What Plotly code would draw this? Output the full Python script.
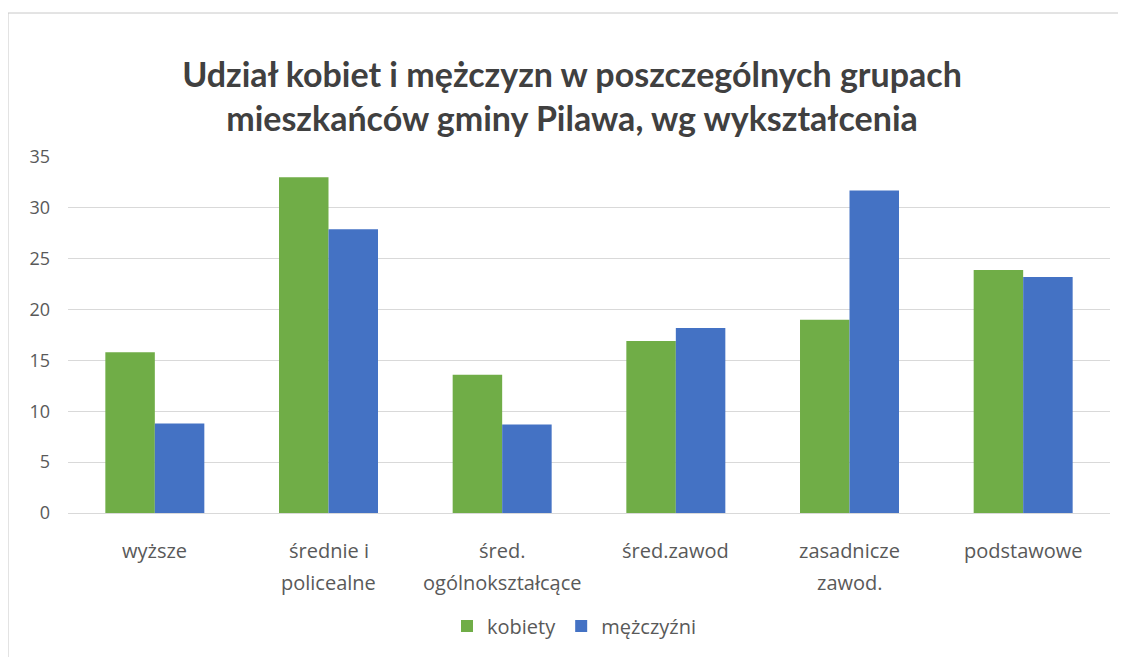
import plotly.graph_objects as go

categories = ["wyższe", "średnie i<br>policealne", "śred.<br>ogólnokształcące",
              "śred.zawod", "zasadnicze<br>zawod.", "podstawowe"]
kobiety = [15.8, 33.0, 13.6, 16.9, 19.0, 23.9]
mezczyzni = [8.8, 27.9, 8.7, 18.2, 31.7, 23.2]
y_ticks = [0, 5, 10, 15, 20, 25, 30, 35]

# page body has an 8px margin, so figure pixels = screen pixels - 8
OFF = 8
W, H = 1118, 649
L, R, T, B = 60, 16, 149, 144
pw, ph = W - L - R, H - T - B

def px_x(sx):
    return (sx - OFF - L) / pw

def px_y(sy):
    return (H - B + OFF - sy) / ph

TICK_FONT = dict(family="'Open Sans', Lato, sans-serif", size=18, color="#595959")
LABEL_FONT = dict(family="'Open Sans', Lato, sans-serif", size=20, color="#595959")

fig = go.Figure()
fig.add_trace(go.Bar(x=list(range(len(categories))), y=kobiety, name="kobiety",
                     marker_color="#70AD47", marker_line_width=0))
fig.add_trace(go.Bar(x=list(range(len(categories))), y=mezczyzni, name="mężczyźni",
                     marker_color="#4472C4", marker_line_width=0))

annotations = []
line_y = [550, 582]
for i, cat in enumerate(categories):
    for j, part in enumerate(cat.split("<br>")):
        annotations.append(dict(x=i, xref="x", y=px_y(line_y[j]), yref="paper",
                                text=part, showarrow=False, xanchor="center",
                                yanchor="middle", font=LABEL_FONT))

fig.update_layout(
    width=W, height=H,
    margin=dict(l=L, r=R, t=T, b=B, autoexpand=False),
    paper_bgcolor="white", plot_bgcolor="white",
    barmode="group", bargap=0.43, bargroupgap=0,
    font=TICK_FONT,
    title=dict(
        text="Udział kobiet i mężczyzn w poszczególnych grupach<br>mieszkańców gminy Pilawa, wg wykształcenia",
        x=px_x(572), xanchor="center", xref="paper",
        y=1 - (87 - OFF) / H, yanchor="middle", yref="container",
        font=dict(family="Lato, 'Open Sans', sans-serif", size=34, color="#404040", weight="bold"),
    ),
    legend=dict(orientation="h", x=px_x(574), xanchor="center", y=px_y(626), yanchor="middle",
                font=LABEL_FONT, traceorder="normal", itemwidth=30),
    xaxis=dict(range=[-0.5, len(categories) - 0.5], showgrid=False, showline=True,
               linecolor="#d9d9d9", linewidth=1, ticks="", showticklabels=False),
    yaxis=dict(range=[0, 35], tickvals=y_ticks, showgrid=True, gridcolor="#d9d9d9",
               gridwidth=1, zeroline=False, showline=False, ticks="",
               tickfont=TICK_FONT, ticklabelstandoff=17),
    annotations=annotations,
    shapes=[
        dict(type="line", xref="paper", yref="paper", x0=px_x(8), x1=px_x(1140),
             y0=px_y(13), y1=px_y(13), line=dict(color="#c8c8c8", width=1)),
        dict(type="line", xref="paper", yref="paper", x0=px_x(8), x1=px_x(8),
             y0=px_y(13), y1=px_y(670), line=dict(color="#c8c8c8", width=1)),
    ],
)

fig.write_html("out.html")
